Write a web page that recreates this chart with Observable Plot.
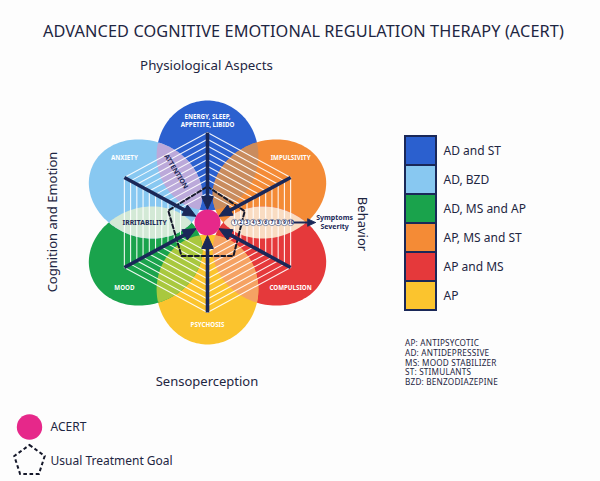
<!DOCTYPE html>
<html><head><meta charset="utf-8">
<script src="https://cdn.jsdelivr.net/npm/d3@7"></script>
<script src="https://cdn.jsdelivr.net/npm/@observablehq/plot@0.6"></script>
<style>
html,body{margin:0;padding:0;background:#fdfdfd;}
#wrap{position:relative;width:600px;height:481px;overflow:hidden;font-family:"Noto Sans",sans-serif;color:#1e2642;}
#wrap svg{position:absolute;}
.abs{position:absolute;white-space:nowrap;transform:translate(-50%,-50%);line-height:1;}
</style></head><body><div id="wrap"></div>
<script>
// ---------------- data ----------------
const title = "ADVANCED COGNITIVE EMOTIONAL REGULATION THERAPY (ACERT)";
const groups = ["Physiological Aspects", "Behavior", "Sensoperception", "Cognition and Emotion"];
const petals = ["ENERGY, SLEEP,\nAPPETITE, LIBIDO", "IMPULSIVITY", "COMPULSION", "PSYCHOSIS", "MOOD", "ANXIETY"];
const petalAngles = [90, 30, -30, -90, -150, 150];
const petalColors = ["#2b60cf", "#f48b36", "#e5393b", "#fbc42e", "#1aa34c", "#88c8f1"];
const overlapLabels = ["", "", "", "", "IRRITABILITY", "ATTENTION"];
const overlapColors = ["#c98c5e", "#f9dcc2", "#f5a263", "#a9c83e", "#d3e9d6", "#bba9da"];
const severityTicks = [1, 2, 3, 4, 5, 6, 7, 8, 9, 10];
const severityLabel = ["Symptoms", "Severity"];
const goalAngles = [90, 18, -54, -126, 162];
const goalSeverity = [2.0, 2.1, 2.8, 2.8, 2.4];
const treatments = ["AD and ST", "AD, BZD", "AD, MS and AP", "AP, MS and ST", "AP and MS", "AP"];
const treatmentColors = ["#2b60cf", "#88c8f1", "#1aa34c", "#f48b36", "#e5393b", "#fbc42e"];
const abbreviations = ["AP: ANTIPSYCOTIC", "AD: ANTIDEPRESSIVE", "MS: MOOD STABILIZER", "ST: STIMULANTS", "BZD: BENZODIAZEPINE"];
const legendItems = ["ACERT", "Usual Treatment Goal"];

// ---------------- layout ----------------
const W = 600, H = 481, CX = 207, CY = 222, KX = 9.6, KY = 9;
const NAVY = "#1a2858", PINK = "#e6288a";
const rad = s => 2.5 + 0.75 * s;               // severity -> radar radius (outer hexagon = 10)
const toR = d => d * Math.PI / 180;
const polar = (r, deg) => [r * Math.cos(toR(deg)), r * Math.sin(toR(deg))];

const PD = 7.45, PA = 6.1, PB = 5.3;           // petal centre distance, radial & tangential semi-axes
function ellipsePts(i) {
  const th = toR(petalAngles[i]), [cx, cy] = polar(PD, petalAngles[i]);
  return d3.range(145).map(k => {
    const t = 2 * Math.PI * k / 144, u = PA * Math.cos(t), v = PB * Math.sin(t);
    return {x: cx + u * Math.cos(th) - v * Math.sin(th), y: cy + u * Math.sin(th) + v * Math.cos(th), id: i};
  });
}
function inside(i, p) {
  const th = toR(petalAngles[i]), [cx, cy] = polar(PD, petalAngles[i]);
  const dx = p.x - cx, dy = p.y - cy;
  const u = dx * Math.cos(th) + dy * Math.sin(th), v = -dx * Math.sin(th) + dy * Math.cos(th);
  return (u / PA) ** 2 + (v / PB) ** 2 <= 1.000001;
}
function lens(i, j) {
  const pts = [...ellipsePts(i).filter(p => inside(j, p)), ...ellipsePts(j).filter(p => inside(i, p))];
  const mx = d3.mean(pts, p => p.x), my = d3.mean(pts, p => p.y);
  pts.sort((p, q) => Math.atan2(p.y - my, p.x - mx) - Math.atan2(q.y - my, q.x - mx));
  return pts.map(p => ({x: p.x, y: p.y, id: i}));
}
const petalPts = petalAngles.flatMap((_, i) => ellipsePts(i).map(p => ({...p, color: petalColors[i]})));
const lensPts = petalAngles.flatMap((_, i) => lens(i, (i + 1) % 6).map(p => ({...p, color: overlapColors[i]})));
const hexPts = severityTicks.flatMap(k => d3.range(7).map(j => {
  const [x, y] = polar(rad(k), 90 + 60 * j); return {x, y, k};
}));
const goalPts = [...goalAngles, goalAngles[0]].map((a, j) => {
  const [x, y] = polar(rad(goalSeverity[j % 5]), a); return {x, y};
});

// spokes (arrows from each vertex to the centre), heads computed in pixel space
function head(tipPx, dirx, diry, L, w, key) {
  const bx = (tipPx + L) * dirx, by = (tipPx + L) * diry;
  const pts = [[tipPx * dirx, tipPx * diry], [bx - w * diry, by + w * dirx], [bx + w * diry, by - w * dirx]];
  pts.push(pts[0]);
  return pts.map(([x, y]) => ({x: x / KX, y: y / KY, key}));
}
const spokes = petalAngles.map(a => {
  const [vx, vy] = polar(rad(10), a);
  const px = vx * KX, py = vy * KY, len = Math.hypot(px, py), ux = px / len, uy = py / len;
  const tip = 13, L = 13;
  return {x1: vx, y1: vy, x2: (tip + L - 2) * ux / KX, y2: (tip + L - 2) * uy / KY, head: head(tip, ux, uy, L, 5.8, a)};
});
const tickX = k => rad(k) * Math.cos(toR(30));
const sevStart = tickX(10) + 0.35, sevTip = tickX(10) + 2.6;
const sevHead = head(-sevTip * KX, -1, 0, 8, 3.8, "sev"); // tip at sevTip pointing right
const labelAngle = a => a + 10 * Math.sign(Math.round(Math.cos(toR(a)) * 1e6)) * Math.sign(Math.round(Math.sin(toR(a)) * 1e6));
const petalLabels = petals.map((t, i) => {
  const [x, y] = polar(11.3, labelAngle(petalAngles[i])); return {x, y, t};
});
const ovLabels = overlapLabels.map((t, i) => {
  const a = petalAngles[i] - 30, [x, y] = polar(6.55, a);
  let rot = Math.atan2(Math.sin(toR(a)) * KY, -Math.cos(toR(a)) * KX) * 180 / Math.PI;
  if (rot > 90) rot -= 180; if (rot < -90) rot += 180;
  return {x, y, t, rot};
}).filter(d => d.t);

const font = "Noto Sans";
const sevText = (t, dy) => Plot.text([t], {x: () => sevTip, y: () => 0, text: d => d, dx: 19, dy, fontSize: 7, fontWeight: 700, fill: NAVY});
const main = Plot.plot({
  width: W, height: H, margin: 0,
  x: {domain: [-CX / KX, (W - CX) / KX], axis: null},
  y: {domain: [-(H - CY) / KY, CY / KY], axis: null},
  color: {type: "identity"},
  style: {background: "transparent", fontFamily: font},
  marks: [
    Plot.line(petalPts, {x: "x", y: "y", z: "id", fill: "color", stroke: "none"}),
    Plot.line(lensPts, {x: "x", y: "y", z: "id", fill: "color", stroke: "none"}),
    Plot.line(hexPts, {x: "x", y: "y", z: "k", stroke: "white", strokeWidth: 1.1, strokeOpacity: 0.92}),
    Plot.line(goalPts, {x: "x", y: "y", stroke: "#15182a", strokeWidth: 2, strokeDasharray: "4,2.6"}),
    Plot.link(spokes, {x1: "x1", y1: "y1", x2: "x2", y2: "y2", stroke: NAVY, strokeWidth: 3.6}),
    Plot.line(spokes.flatMap(s => s.head), {x: "x", y: "y", z: "key", fill: NAVY, stroke: NAVY, strokeWidth: 1}),
    Plot.dot([0], {x: () => 0, y: () => 0, r: 13, fill: PINK}),
    Plot.link([0], {x1: () => sevStart, y1: () => 0, x2: () => sevTip - 0.6, y2: () => 0, stroke: NAVY, strokeWidth: 2}),
    Plot.line(sevHead, {x: "x", y: "y", fill: NAVY, stroke: NAVY, strokeWidth: 0.8}),
    Plot.dot(severityTicks, {x: tickX, y: () => 0, r: 3.2, fill: "white", stroke: NAVY, strokeWidth: 0.5}),
    Plot.text(severityTicks, {x: tickX, y: () => 0, text: d => String(d), fontSize: 5, fontWeight: 700, fill: NAVY}),
    sevText(severityLabel[0], -4.4),
    sevText(severityLabel[1], 4.2),
    Plot.text(petalLabels, {x: "x", y: "y", text: "t", fill: "white", fontSize: 6.2, fontWeight: 700, lineHeight: 1.3}),
    Plot.text(ovLabels, {x: "x", y: "y", text: "t", rotate: "rot", fill: "#1d2a56", fontSize: 6.8, fontWeight: 700})
  ]
});
main.style.left = "0px"; main.style.top = "0px";
const wrap = document.getElementById("wrap");
wrap.appendChild(main);

// legend of treatments
const legendBoxes = Plot.plot({
  width: 150, height: 177, marginTop: 1, marginBottom: 1, marginLeft: 1, marginRight: 118,
  x: {axis: null}, y: {type: "band", domain: treatments, padding: 0, axis: null},
  color: {type: "identity"},
  style: {background: "transparent", fontFamily: font},
  marks: [
    Plot.cell(treatments, {y: d => d, fill: (d, i) => treatmentColors[i], stroke: NAVY, strokeWidth: 2}),
    Plot.text(treatments, {y: d => d, text: d => d, frameAnchor: "right", dx: 7, textAnchor: "start", fontSize: 12, fill: "#1e2642"})
  ]
});
legendBoxes.style.left = "404px"; legendBoxes.style.top = "134px"; legendBoxes.style.overflow = "visible";
wrap.appendChild(legendBoxes);

// bottom legend
const pentagon = {draw(ctx, size) {
  const s = Math.sqrt(size / Math.PI);
  for (let k = 0; k < 5; k++) {
    const a = -Math.PI / 2 + k * 2 * Math.PI / 5;
    k ? ctx.lineTo(s * Math.cos(a), s * Math.sin(a)) : ctx.moveTo(s * Math.cos(a), s * Math.sin(a));
  }
  ctx.closePath();
}};
const bottomLegend = Plot.plot({
  width: 220, height: 81, margin: 0,
  x: {type: "band", domain: ["sym"], range: [13, 45], axis: null},
  y: {type: "band", domain: legendItems, range: [7, 79], axis: null},
  style: {background: "transparent", fontFamily: font},
  marks: [
    Plot.dot([legendItems[0]], {x: () => "sym", y: d => d, r: 12.7, fill: PINK}),
    Plot.dot([legendItems[1]], {x: () => "sym", y: d => d, r: 16, symbol: pentagon, fill: "none", stroke: "#15182a", strokeWidth: 2, strokeDasharray: "3.6,2.6"}),
    Plot.text(legendItems, {x: () => "sym", y: d => d, text: d => d, dx: 21, textAnchor: "start", fontSize: 12, fill: "#1e2642"})
  ]
});
bottomLegend.style.left = "0px"; bottomLegend.style.top = "400px"; bottomLegend.style.overflow = "visible";
wrap.appendChild(bottomLegend);

// HTML texts
function addText(txt, x, y, size, extra = "") {
  const d = document.createElement("div");
  d.className = "abs"; d.textContent = txt;
  d.style.cssText += `left:${x}px;top:${y}px;font-size:${size}px;` + extra;
  wrap.appendChild(d); return d;
}
addText(title, 303.5, 31, 16.3, "letter-spacing:0.1px;");
addText(groups[0], 206.5, 66, 13.3);
addText(groups[1], 362, 224, 13, "transform:translate(-50%,-50%) rotate(90deg);");
addText(groups[2], 207, 381, 13);
addText(groups[3], 52, 222, 13, "transform:translate(-50%,-50%) rotate(-90deg);");
abbreviations.forEach((t, i) => {
  addText(t, 405, 343.3 + i * 9.6, 8.2, "transform:translate(0,-50%);letter-spacing:0.2px;");
});
</script></body></html>
